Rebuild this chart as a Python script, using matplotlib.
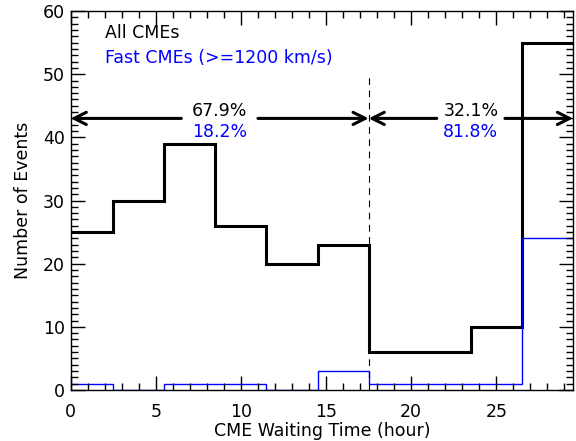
import matplotlib

matplotlib.use("Agg")
import matplotlib.pyplot as plt
import matplotlib.ticker as tick
import numpy as np

# bin edges of the waiting time histogram (hours)
edges = [-0.5, 2.5, 5.5, 8.5, 11.5, 14.5, 17.5, 20.5, 23.5, 26.5, 29.5]
all_cmes = [25, 30, 39, 26, 20, 23, 6, 6, 10, 55]
fast_cmes = [1, 0, 1, 1, 0, 3, 1, 1, 1, 24]
split = 17.5
arrow_y = 43
left_pct = ["67.9%", "18.2%"]
right_pct = ["32.1%", "81.8%"]

FS = 12.5


def _plot():
    fig = plt.figure(figsize=(5.76, 4.41), dpi=100)
    ax = fig.add_axes([0.1227, 0.1156, 0.8721, 0.8594])

    ax.stairs(all_cmes, edges, color="black", lw=2.2, baseline=None)
    ax.stairs(fast_cmes, edges, color="blue", lw=1.0, baseline=None)

    ax.set_xlim(0, 29.5)
    ax.set_ylim(0, 60)
    ax.xaxis.set_major_locator(tick.MultipleLocator(5))
    ax.xaxis.set_minor_locator(tick.MultipleLocator(1))
    ax.yaxis.set_major_locator(tick.MultipleLocator(10))
    ax.yaxis.set_minor_locator(tick.MultipleLocator(1))
    ax.tick_params(which="both", direction="in", top=True, right=True,
                   labelsize=FS, width=1)
    ax.tick_params(which="major", length=10)
    ax.tick_params(which="minor", length=5)
    ax.tick_params(axis="x", pad=9)
    ax.tick_params(axis="y", pad=4)
    for s in ax.spines.values():
        s.set_linewidth(1)

    ax.vlines(split, 0, 50, colors="black", linestyles=(0, (6, 5)), lw=0.8)

    # arrows, with gaps for the percentage labels
    head = dict(arrowstyle="->", lw=2.2, color="black", mutation_scale=22,
                shrinkA=0, shrinkB=0)
    lo, hi = ax.get_xlim()
    for a, b, pct in [(lo, split, left_pct), (split, hi, right_pct)]:
        mid = (a + b) / 2
        half = 2.25 if a == lo else 2.0
        ax.annotate("", xy=(a, arrow_y), xytext=(mid - half, arrow_y), arrowprops=head)
        ax.annotate("", xy=(b, arrow_y), xytext=(mid + half, arrow_y), arrowprops=head)
        ax.text(mid, 44.2, pct[0], ha="center", va="center", fontsize=FS, color="black")
        ax.text(mid, 40.9, pct[1], ha="center", va="center", fontsize=FS, color="blue")

    ax.text(2.0, 56.6, "All CMEs", ha="left", va="center", fontsize=FS, color="black")
    ax.text(2.0, 52.6, "Fast CMEs (>=1200 km/s)", ha="left", va="center",
            fontsize=FS, color="blue")

    ax.set_xlabel("CME Waiting Time (hour)", fontsize=FS, labelpad=1)
    ax.set_ylabel("Number of Events", fontsize=FS, labelpad=8)
    return fig, ax


if __name__ == "__main__":
    fig, ax = _plot()
    fig.savefig("out.png", dpi=100)
    plt.close(fig)
